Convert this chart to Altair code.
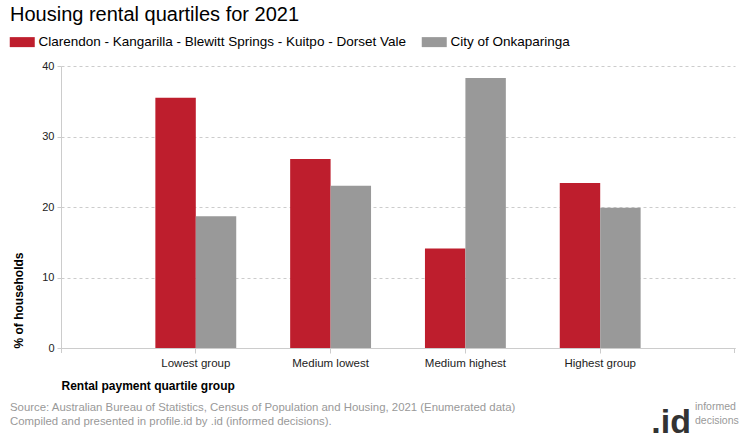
import altair as alt
import pandas as pd

categories = ["Lowest group", "Medium lowest", "Medium highest", "Highest group"]
series = ["Clarendon - Kangarilla - Blewitt Springs - Kuitpo - Dorset Vale", "City of Onkaparinga"]
clarendon = [35.5, 26.8, 14.1, 23.4]
onkaparinga = [18.7, 23.0, 38.3, 19.9]
colors = ["#BE1E2D", "#999999"]
y_ticks = [0, 10, 20, 30, 40]
source_text = ("Source: Australian Bureau of Statistics, Census of Population and Housing, 2021 (Enumerated data)\n"
               "Compiled and presented in profile.id by .id (informed decisions).")
logo_text = ".id"
logo_sub = "informed\ndecisions"

rows = []
for c, a, b in zip(categories, clarendon, onkaparinga):
    rows.append({"group": c, "area": series[0], "value": a})
    rows.append({"group": c, "area": series[1], "value": b})
df = pd.DataFrame(rows)

FONT = "Liberation Sans"
W, H = 674, 282

bars = alt.Chart(df).mark_bar().encode(
    x=alt.X("group:N", sort=categories,
            scale=alt.Scale(paddingInner=0.4, paddingOuter=0.7),
            axis=alt.Axis(title="Rental payment quartile group", labelAngle=0,
                          titleAnchor="start", titleFontWeight="bold", titleFontSize=12,
                          titleColor="#000", titlePadding=12,
                          labelFontSize=11.5, labelColor="#222", labelPadding=4,
                          tickColor="#cccccc", tickSize=5, domainColor="#cccccc")),
    xOffset=alt.XOffset("area:N", sort=series, scale=alt.Scale(paddingInner=0, paddingOuter=0)),
    y=alt.Y("value:Q", scale=alt.Scale(domain=[0, 40]),
            axis=alt.Axis(values=y_ticks, title="% of households", titleAnchor="start",
                          titleFontWeight="bold", titleFontSize=12, titleColor="#000",
                          titlePadding=16, labelFontSize=11, labelColor="#222",
                          labelPadding=3, tickColor="#cccccc", tickSize=4,
                          domainColor="#cccccc", gridColor="#cccccc", gridDash=[3, 3])),
    color=alt.Color("area:N", sort=series,
                    scale=alt.Scale(domain=series, range=colors),
                    legend=alt.Legend(title=None, orient="none", direction="horizontal",
                                      legendX=-45.5, legendY=-31,
                                      symbolType="M-2.5,-1H2.5V1H-2.5Z", symbolSize=100,
                                      symbolStrokeWidth=0, symbolOpacity=1,
                                      labelFontSize=13.5, labelColor="#000", labelOffset=9.5,
                                      columnPadding=15, labelLimit=600)),
)

end_tick_l = alt.Chart().mark_rule(color="#cccccc").encode(
    x=alt.value(0.5), y=alt.value(H), y2=alt.value(H + 5))
end_tick_r = alt.Chart().mark_rule(color="#cccccc").encode(
    x=alt.value(W - 0.5), y=alt.value(H), y2=alt.value(H + 5))

src = alt.Chart(pd.DataFrame({"t": [source_text]})).mark_text(
    align="left", baseline="middle", font=FONT, fontSize=11.4, color="#999999",
    lineBreak="\n", lineHeight=14
).encode(x=alt.value(-51), y=alt.value(342), text="t:N")

logo = alt.Chart(pd.DataFrame({"t": [logo_text]})).mark_text(
    align="right", baseline="alphabetic", font=FONT, fontSize=34, fontWeight="bold",
    color="#333333"
).encode(x=alt.value(630), y=alt.value(367), text="t:N")

logo2 = alt.Chart(pd.DataFrame({"t": [logo_sub]})).mark_text(
    align="left", baseline="middle", font=FONT, fontSize=10.5, color="#999999",
    lineBreak="\n", lineHeight=14
).encode(x=alt.value(634), y=alt.value(341), text="t:N")

chart = alt.layer(bars, end_tick_l, end_tick_r, src, logo, logo2).properties(
    width=W, height=H,
    padding={"left": 61, "top": 66, "right": 5, "bottom": 92},
    autosize=alt.AutoSizeParams(type="none"),
    title=alt.TitleParams("Housing rental quartiles for 2021", anchor="start", frame="group",
                          dx=-51, fontSize=20, fontWeight="normal", font=FONT, color="#000",
                          offset=10),
).configure(font=FONT).configure_view(stroke=None)

chart.save("out.html", embed_options={"renderer": "svg", "actions": False})
